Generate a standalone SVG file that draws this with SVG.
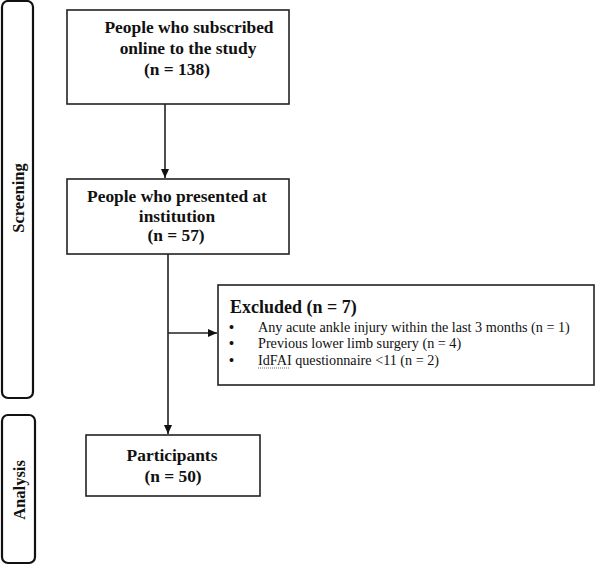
<svg xmlns="http://www.w3.org/2000/svg" width="597" height="565" viewBox="0 0 597 565">
<style>
.box{fill:#fff;stroke:#222;stroke-width:1.6}
.side{fill:#fff;stroke:#111;stroke-width:2.2}
.t{font-family:"Liberation Serif","Times New Roman",serif;font-weight:bold;font-size:17.4px;fill:#111;text-anchor:middle}
.s{font-family:"Liberation Serif","Times New Roman",serif;font-weight:bold;font-size:16.5px;fill:#111;text-anchor:middle}
.b{font-family:"Liberation Serif","Times New Roman",serif;font-size:14.2px;fill:#111}
.dot{font-family:"Liberation Serif","Times New Roman",serif;font-size:14.2px;font-weight:bold;fill:#111}
.line{stroke:#222;stroke-width:1.6;fill:none}
</style>
<defs>
<marker id="ah" markerWidth="10" markerHeight="10" refX="9" refY="5" orient="auto" markerUnits="userSpaceOnUse">
<path d="M0,1 L9,5 L0,9 Z" fill="#111"/>
</marker>
</defs>
<rect width="597" height="565" fill="#fff"/>
<g id="stage-screening">
<rect class="side" x="2" y="1" width="31" height="397" rx="6"/>
<text class="s" transform="translate(24,198) rotate(-90)">Screening</text>
</g>
<g id="stage-analysis">
<rect class="side" x="2" y="415" width="33" height="148" rx="6"/>
<text class="s" transform="translate(25,490) rotate(-90)">Analysis</text>
</g>
<g id="connectors">
<line class="line" x1="165" y1="104" x2="165" y2="178" marker-end="url(#ah)"/>
<line class="line" x1="168" y1="254" x2="168" y2="434" marker-end="url(#ah)"/>
<line class="line" x1="168" y1="333" x2="217" y2="333" marker-end="url(#ah)"/>
</g>
<g id="node-subscribed">
<rect class="box" x="67" y="10" width="222" height="94"/>
<text class="t" x="189" y="33">People who subscribed</text>
<text class="t" x="188" y="54">online to the study</text>
<text class="t" x="177" y="75">(n = 138)</text>
</g>
<g id="node-presented">
<rect class="box" x="67" y="179" width="222" height="75"/>
<text class="t" x="177" y="202">People who presented at</text>
<text class="t" x="177" y="222">institution</text>
<text class="t" x="176" y="241">(n = 57)</text>
</g>
<g id="node-excluded">
<rect class="box" x="218" y="285" width="376" height="100"/>
<text class="t" x="230" y="313" style="text-anchor:start;font-size:18px">Excluded (n = 7)</text>
<text class="dot" x="229" y="332">•</text>
<text class="b" x="258" y="332">Any acute ankle injury within the last 3 months (n = 1)</text>
<text class="dot" x="229" y="348">•</text>
<text class="b" x="258" y="348">Previous lower limb surgery (n = 4)</text>
<text class="dot" x="229" y="365">•</text>
<text class="b" x="258" y="365">IdFAI questionnaire &lt;11 (n = 2)</text>
<line x1="258" y1="368" x2="289" y2="368" stroke="#666" stroke-width="1" stroke-dasharray="1,1"/>
</g>
<g id="node-participants">
<rect class="box" x="86" y="435" width="174" height="61"/>
<text class="t" x="172" y="461">Participants</text>
<text class="t" x="173" y="482">(n = 50)</text>
</g>
</svg>
